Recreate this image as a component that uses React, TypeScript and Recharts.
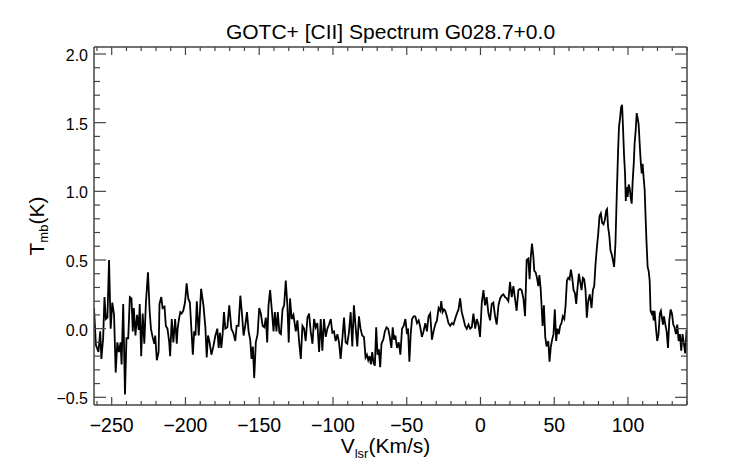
import { LineChart, Line, XAxis, YAxis } from 'recharts';

const FRAME = '#444444';
const FONT = '"Liberation Sans", Arial, Helvetica, sans-serif';

// velocity channels (km/s)
const VELOCITY = [
  -262, -260.7, -259, -257.8, -257, -255.8, -254.9, -254, -252.9, -251.8,
  -250.7, -249.6, -248.4, -247.3, -246.2, -245.1, -244, -243.3, -242.2, -241,
  -240, -238.8, -237.7, -236.6, -235.7, -235, -233.9, -232.8, -231.7, -231,
  -230, -229, -227.9, -226.8, -225.4, -224.3, -223.4, -222.3, -221.1, -220.5,
  -219.4, -218.2, -217.6, -216.4, -215.5, -214.2, -213.3, -212.2, -211, -210.4,
  -209.3, -208.2, -207, -205.9, -205.3, -204.4, -203.5, -202.6, -201.5, -200.3,
  -199.2, -198.1, -197, -195, -194.1, -193.2, -192.3, -191, -189.4, -187.8,
  -186.5, -185.6, -184.7, -183.8, -182.4, -181.1, -179.7, -178.4, -177.5, -176.6,
  -175.7, -174.8, -173.9, -173, -171.6, -170.3, -168.9, -167.6, -166.2, -165.3,
  -164, -162.8, -161.7, -160.6, -159.5, -158.3, -157.2, -156.1, -155.2, -154.3,
  -153.4, -152.3, -151.1, -150, -148.9, -147.7, -146.6, -145.5, -144.6, -143.7,
  -142.6, -141.4, -140.3, -139.4, -138.3, -137.4, -136.3, -135.3, -134.2, -133.1,
  -132, -130.9, -130, -129.1, -128, -126.8, -125.2, -124.1, -123, -121.8,
  -120.7, -119.6, -118.5, -117.3, -116.2, -115.1, -113.9, -112.8, -111.7, -110.6,
  -109.4, -108.3, -107.2, -106.1, -104.9, -103.8, -102.7, -101.5, -100.4, -99.3,
  -98.2, -97, -95.9, -94.8, -93.7, -92.5, -91.4, -90.3, -89.2, -88,
  -86.9, -85.8, -84.7, -83.5, -82.4, -81.3, -80.2, -79, -77.9, -77,
  -76.1, -75.2, -74.3, -73.4, -72.5, -71.6, -70.7, -69.8, -68.9, -68,
  -67.1, -65.9, -64.8, -63.7, -62.6, -61.5, -60.4, -59.5, -58.6, -57.7,
  -56.6, -55.4, -54.3, -53.2, -52.1, -50.9, -49.8, -49.1, -48.2, -47.3,
  -46.4, -45.3, -44.2, -43, -41.9, -40.8, -39.7, -38.6, -37.4, -36.3,
  -35.2, -34.1, -32.9, -31.8, -30.7, -29.5, -28.4, -27.3, -26.6, -25.7,
  -24.8, -23.9, -22.8, -21.7, -20.5, -19.4, -18.3, -17.2, -16, -14.9,
  -13.8, -12.7, -11.5, -10.4, -9.3, -8.1, -7, -5.9, -4.8, -3.6,
  -2.5, -1.4, -0.3, 0.9, 2, 3.1, 4.2, 5.4, 6.5, 7.6,
  8.7, 9.9, 11, 12.2, 13.3, 14.4, 15.5, 16.7, 17.8, 18.9,
  20, 21.2, 22.3, 23.4, 24.5, 25.7, 26.8, 27.9, 29.1, 30.2,
  31.3, 32.4, 33.3, 34, 34.9, 35.8, 36.5, 37.4, 38.3, 39.2,
  39.9, 40.8, 41.4, 42.1, 43, 43.9, 44.8, 46, 46.8, 47.7,
  48.6, 49.5, 50.4, 51.3, 52.2, 53.1, 54, 54.9, 55.8, 56.8,
  57.7, 58.6, 59.5, 60.4, 61.3, 62.2, 63.1, 64, 64.9, 65.8,
  66.7, 67.6, 68.5, 69.4, 70.3, 71.2, 72.1, 73, 74.1, 75.3,
  76.2, 77.1, 78, 78.9, 79.8, 80.7, 81.6, 82.5, 83.4, 84.3,
  85.2, 85.8, 86.5, 87.4, 88.1, 89, 89.9, 90.6, 91.5, 92.4,
  93.3, 93.9, 94.6, 95.3, 96, 96.6, 97.3, 98, 98.5, 99.1,
  99.8, 100.5, 101.2, 101.8, 102.5, 103.2, 103.9, 104.5, 105.2, 105.9,
  106.6, 107.2, 107.9, 108.6, 109.3, 109.9, 110.6, 111.3, 112, 112.6,
  113.3, 114, 114.7, 115.3, 116, 116.7, 117.4, 118, 118.9, 119.8,
  120.7, 121.6, 122.3, 123, 123.7, 124.4, 125.3, 126.2, 127.1, 128,
  128.9, 129.8, 130.7, 131.6, 132.5, 133.4, 134.3, 135.2, 136.1, 137,
  137.9, 138.8, 139.7,
];

// main-beam temperature (K) for each channel
const TMB = [
  0.15, -0.12, -0.17, -0.02, -0.22, -0.07, 0.23, 0.07, 0.08, 0.5,
  0, 0.19, 0.1, -0.32, -0.1, -0.17, -0.1, -0.26, 0.18, -0.48,
  -0.07, -0.07, 0.23, 0.22, -0.02, 0.15, -0.05, 0.1, -0.01, 0.18,
  -0.2, 0.11, -0.11, 0.19, 0.41, 0.13, 0, -0.06, -0.11, -0.05,
  -0.23, -0.17, 0.18, 0.23, 0.15, 0.16, 0.02, 0, -0.1, -0.2,
  0.07, -0.1, 0.07, -0.11, 0, 0.07, 0.12, 0.11, 0.13, 0.19,
  0.33, 0.22, 0.19, -0.19, -0.02, -0.05, 0.2, -0.05, 0.29, 0.17,
  0.01, -0.21, -0.05, -0.09, -0.19, -0.13, -0.05, 0, -0.14, -0.03,
  -0.14, -0.04, 0.12, 0, 0.01, 0.17, 0, -0.03, -0.09, 0.02,
  0.02, 0.24, 0.11, -0.05, 0.02, 0.12, -0.02, -0.08, -0.22, -0.13,
  -0.36, -0.1, -0.04, 0.15, 0.11, 0.02, 0.01, 0.08, -0.1, 0.17,
  0.28, 0.13, -0.02, 0.12, -0.02, 0.12, -0.03, -0.04, 0.14, 0.17,
  0.35, 0.17, -0.1, 0.22, 0.07, 0.1, -0.02, 0.06, -0.09, -0.22,
  0.02, 0, -0.09, 0.08, 0.11, -0.02, -0.11, 0.07, 0.01, 0.04,
  -0.17, 0.07, -0.16, 0.07, -0.06, 0, 0.03, 0.07, -0.03, -0.02,
  -0.09, -0.04, -0.1, -0.22, -0.08, 0.08, -0.1, -0.11, -0.03, 0.12,
  -0.13, 0.17, 0.02, -0.13, 0.09, 0, -0.05, -0.06, -0.21, -0.19,
  -0.23, -0.2, -0.26, -0.17, -0.25, -0.27, 0.01, -0.19, -0.15, -0.28,
  -0.11, -0.08, -0.02, 0.01, 0, -0.06, -0.14, 0.01, -0.08, -0.05,
  -0.14, -0.1, -0.19, 0, 0.02, 0.07, -0.04, 0, -0.24, -0.04,
  0.07, 0.09, 0.09, 0.04, 0.06, 0.01, -0.06, -0.02, 0.04, -0.02,
  0.09, 0.11, -0.08, -0.02, 0.03, 0.06, 0.15, 0.13, 0.2, 0.12,
  0.14, 0.13, 0.09, 0.04, 0.02, 0.04, 0.03, 0.07, 0.11, 0.14,
  0.22, 0.12, 0.07, 0.02, 0, 0.03, 0, 0.01, 0.11, 0,
  0.07, 0.03, -0.06, 0.19, 0.28, 0.17, 0.23, 0.11, 0.06, 0.18,
  0.19, 0.09, 0.03, 0.17, 0.22, 0.24, 0.25, 0.23, 0.22, 0.2,
  0.34, 0.23, 0.31, 0.22, 0.13, 0.28, 0.29, 0.28, 0.22, 0.09,
  0.5, 0.51, 0.36, 0.51, 0.62, 0.53, 0.42, 0.41, 0.37, 0.31,
  0.39, 0.29, 0.17, 0.02, 0.17, -0.06, -0.13, -0.09, -0.24, -0.13,
  -0.08, -0.04, 0.14, -0.09, 0, -0.04, 0.02, 0.04, 0.09, 0.07,
  0.17, 0.35, 0.37, 0.36, 0.43, 0.37, 0.28, 0.26, 0.18, 0.3,
  0.4, 0.34, 0.28, 0.37, 0.36, 0.28, 0.08, 0.2, 0.25, 0.15,
  0.28, 0.31, 0.47, 0.59, 0.69, 0.82, 0.84, 0.77, 0.76, 0.79,
  0.86, 0.87, 0.74, 0.67, 0.57, 0.54, 0.49, 0.45, 0.62, 0.98,
  1.3, 1.47, 1.53, 1.61, 1.63, 1.47, 1.27, 1.13, 0.93, 1.03,
  0.96, 1.05, 1.02, 0.96, 0.91, 1.08, 1.2, 1.35, 1.44, 1.57,
  1.53, 1.49, 1.35, 1.22, 1.13, 1.2, 1.1, 1.01, 0.79, 0.62,
  0.45, 0.42, 0.35, 0.13, 0.11, 0.13, 0.06, 0.13, 0.01, -0.09,
  -0.04, 0.11, 0.13, 0.08, 0.03, 0.09, 0.03, -0.02, -0.14, 0.06,
  0.14, 0.11, 0.03, 0.01, -0.04, 0.03, -0.09, -0.04, -0.16, -0.04,
  -0.11, -0.18, -0.01,
];

const X_MAJOR_TICKS = [-250, -200, -150, -100, -50, 0, 50, 100];
const X_MINOR_TICKS = [
  -260, -250, -240, -230, -220, -210, -200, -190, -180, -170, -160, -150,
  -140, -130, -120, -110, -100, -90, -80, -70, -60, -50, -40, -30, -20, -10,
  0, 10, 20, 30, 40, 50, 60, 70, 80, 90, 100, 110, 120, 130, 140,
];
const Y_MAJOR_TICKS = [-0.5, 0, 0.5, 1, 1.5, 2];
const Y_MINOR_TICKS = [
  -0.5, -0.4, -0.3, -0.2, -0.1, 0, 0.1, 0.2, 0.3, 0.4, 0.5, 0.6, 0.7, 0.8,
  0.9, 1, 1.1, 1.2, 1.3, 1.4, 1.5, 1.6, 1.7, 1.8, 1.9, 2,
];

const X_DOMAIN = [-262, 140];
const Y_DOMAIN = [-0.556, 2.051];

const data = VELOCITY.map((v, i) => ({ v, t: TMB[i] }));

const minus = (s: string) => s.replace('-', '\u2212');

function BottomTick({ x, y, payload }: any) {
  const major = X_MAJOR_TICKS.includes(payload.value);
  return (
    <g>
      <line x1={x} x2={x} y1={y} y2={y - (major ? 8 : 4)} stroke={FRAME} strokeWidth={1.2} />
      {major && (
        <text x={x} y={y + 27} textAnchor="middle" fontSize={19.5} fontFamily={FONT} fill="#000">
          {minus(String(payload.value))}
        </text>
      )}
    </g>
  );
}

function TopTick({ x, y, payload }: any) {
  const major = X_MAJOR_TICKS.includes(payload.value);
  return <line x1={x} x2={x} y1={y} y2={y + (major ? 8 : 4)} stroke={FRAME} strokeWidth={1.2} />;
}

function LeftTick({ x, y, payload }: any) {
  const major = Y_MAJOR_TICKS.includes(payload.value);
  return (
    <g>
      <line x1={x} x2={x + (major ? 12 : 6)} y1={y} y2={y} stroke={FRAME} strokeWidth={1.2} />
      {major && (
        <text x={x - 6} y={y + 7} textAnchor="end" fontSize={16} fontFamily={FONT} fill="#000">
          {minus(payload.value.toFixed(1))}
        </text>
      )}
    </g>
  );
}

function RightTick({ x, y, payload }: any) {
  const major = Y_MAJOR_TICKS.includes(payload.value);
  return <line x1={x} x2={x - (major ? 12 : 6)} y1={y} y2={y} stroke={FRAME} strokeWidth={1.2} />;
}

// x-axis title plus the chart title, both centred on the plot box
function XTitle({ viewBox }: any) {
  const cx = viewBox.x + viewBox.width / 2;
  return (
    <g>
      <text x={cx} y={39} textAnchor="middle" fontSize={21} fontFamily={FONT} fill="#000">
        GOTC+ [CII] Spectrum G028.7+0.0
      </text>
      <text x={cx - 5} y={453} textAnchor="middle" fontSize={21} fontFamily={FONT} fill="#000">
        V<tspan dy={5} fontSize={13}>lsr</tspan>
        <tspan dy={-5}>(Km/s)</tspan>
      </text>
    </g>
  );
}

function YTitle({ viewBox }: any) {
  const cy = viewBox.y + viewBox.height / 2;
  return (
    <text
      x={44}
      y={cy}
      transform={`rotate(-90, 44, ${cy})`}
      textAnchor="middle"
      fontSize={21}
      fontFamily={FONT}
      fill="#000"
    >
      T<tspan dy={4} fontSize={13}>mb</tspan>
      <tspan dy={-4}>(K)</tspan>
    </text>
  );
}

export default function App() {
  const axisLine = { stroke: FRAME, strokeWidth: 1.5 };
  return (
    <div style={{ position: 'absolute', left: 0, top: 0, background: '#fff' }}>
      <LineChart
        width={742}
        height={464}
        data={data}
        margin={{ top: 46, right: 54, left: 0, bottom: 0 }}
      >
        <XAxis
          xAxisId="b"
          dataKey="v"
          type="number"
          domain={X_DOMAIN}
          ticks={X_MINOR_TICKS}
          interval={0}
          allowDataOverflow
          height={59}
          tickSize={0}
          tickMargin={0}
          tickLine={false}
          axisLine={axisLine}
          tick={BottomTick}
          label={XTitle}
        />
        <XAxis
          xAxisId="t"
          orientation="top"
          dataKey="v"
          type="number"
          domain={X_DOMAIN}
          ticks={X_MINOR_TICKS}
          interval={0}
          allowDataOverflow
          height={1}
          tickSize={0}
          tickMargin={0}
          tickLine={false}
          axisLine={axisLine}
          tick={TopTick}
        />
        <YAxis
          yAxisId="l"
          type="number"
          domain={Y_DOMAIN}
          ticks={Y_MINOR_TICKS}
          interval={0}
          allowDataOverflow
          width={94}
          tickSize={0}
          tickMargin={0}
          tickLine={false}
          axisLine={axisLine}
          tick={LeftTick}
          label={YTitle}
        />
        <YAxis
          yAxisId="r"
          orientation="right"
          type="number"
          domain={Y_DOMAIN}
          ticks={Y_MINOR_TICKS}
          interval={0}
          allowDataOverflow
          width={1}
          tickSize={0}
          tickMargin={0}
          tickLine={false}
          axisLine={axisLine}
          tick={RightTick}
        />
        <Line
          xAxisId="b"
          yAxisId="l"
          dataKey="t"
          type="linear"
          dot={false}
          stroke="#000"
          strokeWidth={1.8}
          strokeLinejoin="miter"
          isAnimationActive={false}
        />
      </LineChart>
    </div>
  );
}
